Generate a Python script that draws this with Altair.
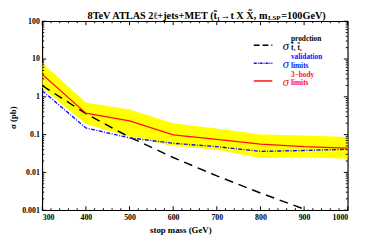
import altair as alt
import pandas as pd

# ---- data ----
mass = [300, 400, 500, 600, 700, 800, 900, 1000]
sigma_prod = [1.99, 0.357, 0.0855, 0.0248, 0.0081, 0.00285, 0.00107, 0.000437]
sigma_3body = [3.9, 0.37, 0.23, 0.098, 0.075, 0.056, 0.048, 0.044]
sigma_valid = [1.45, 0.15, 0.082, 0.059, 0.048, 0.036, 0.038, 0.041]
band_upper = [7.8, 0.71, 0.46, 0.20, 0.145, 0.10, 0.095, 0.087]
band_lower = [1.75, 0.19, 0.088, 0.05, 0.04, 0.024, 0.025, 0.023]

x_major = [300, 400, 500, 600, 700, 800, 900, 1000]
x_minor = [v for v in range(300, 1001, 20) if v % 100 != 0]
y_major = [0.001, 0.01, 0.1, 1, 10, 100]
y_minor = [m * d for d in [0.001, 0.01, 0.1, 1, 10] for m in range(2, 10)]

W, H = 312, 193
SERIF = "Liberation Serif"

df = pd.DataFrame({"mass": mass, "prod": sigma_prod, "b3": sigma_3body,
                   "val": sigma_valid, "up": band_upper, "lo": band_lower})

xs = alt.Scale(domain=[300, 1000], nice=False, zero=False)
ys = alt.Scale(type="log", domain=[0.001, 100], nice=False)

x_axis = alt.Axis(values=x_major, format="d", ticks=False, domain=False, grid=False,
                  labelFont=SERIF, labelFontWeight="bold", labelFontSize=8,
                  labelPadding=3, labelColor="black",
                  title="stop mass (GeV)", titleFont=SERIF, titleFontWeight="bold",
                  titleFontSize=9, titleX=141, titleY=20, titleBaseline="middle",
                  titleColor="black")
y_axis = alt.Axis(values=y_major, format="~g", ticks=False, domain=False, grid=False,
                  labelFont=SERIF, labelFontWeight="bold", labelFontSize=8,
                  labelPadding=3, labelColor="black",
                  title="σ (pb)", titleFont=SERIF, titleFontWeight="bold",
                  titleFontSize=9, titleX=-30, titleY=98, titleAngle=270,
                  titleAlign="center", titleBaseline="middle", titleColor="black")

base = alt.Chart(df)

band = base.mark_area(color="#FFFF00", opacity=1, clip=True).encode(
    x=alt.X("mass:Q", scale=xs, axis=x_axis),
    y=alt.Y("up:Q", scale=ys, axis=y_axis),
    y2="lo:Q",
)
prod = base.mark_line(color="black", strokeWidth=1.5, strokeDash=[9, 6], clip=True).encode(
    x=alt.X("mass:Q", scale=xs), y=alt.Y("prod:Q", scale=ys))
val = base.mark_line(color="#1010ff", strokeWidth=1.4, strokeDash=[4, 1.5, 1, 1.5], clip=True).encode(
    x=alt.X("mass:Q", scale=xs), y=alt.Y("val:Q", scale=ys))
b3 = base.mark_line(color="#ff1010", strokeWidth=1.3, clip=True).encode(
    x=alt.X("mass:Q", scale=xs), y=alt.Y("b3:Q", scale=ys))

# ---- frame ticks (inward) ----
tick_layers = []
for tv, ln in [(x_major, 4), (x_minor, 2)]:
    d = alt.Data(values=[{"v": v} for v in tv])
    tick_layers.append(alt.Chart(d).mark_rule(color="black", strokeWidth=1).encode(
        x=alt.X("v:Q", scale=xs), y=alt.value(H), y2=alt.value(H - ln)))
    tick_layers.append(alt.Chart(d).mark_rule(color="black", strokeWidth=1).encode(
        x=alt.X("v:Q", scale=xs), y=alt.value(0), y2=alt.value(ln)))
for tv, ln in [(y_major, 4), (y_minor, 2)]:
    d = alt.Data(values=[{"v": v} for v in tv])
    tick_layers.append(alt.Chart(d).mark_rule(color="black", strokeWidth=1).encode(
        y=alt.Y("v:Q", scale=ys), x=alt.value(0), x2=alt.value(ln)))
    tick_layers.append(alt.Chart(d).mark_rule(color="black", strokeWidth=1).encode(
        y=alt.Y("v:Q", scale=ys), x=alt.value(W), x2=alt.value(W - ln)))

# ---- title (with subscript) ----
one = alt.Data(values=[{"a": 1}])
def txt(s, x, y, size, align="left", color="black", style="normal", weight="bold"):
    return alt.Chart(one).mark_text(text=s, align=align, baseline="middle", font=SERIF,
                                    fontSize=size, fontWeight=weight, fontStyle=style,
                                    color=color).encode(x=alt.value(x), y=alt.value(y))

TY = -5.5
title = [
    txt("8TeV ATLAS 2ℓ+jets+MET (t̃₁→t X X̃, m", 230, TY, 10.5, align="right"),
    txt("LSP", 230.5, TY + 2, 7),
    txt("=100GeV)", 244, TY, 10.5),
]

# ---- legend ----
leg = []
entries = [
    ("black", [6, 3], 24.5, "prodction", "t̃₁ t̃₁"),
    ("#1010ff", [3, 1, 1, 1], 43, "validation", "limits"),
    ("#ff1010", None, 61, "3−body", "limits"),
]
for col, dash, yy, sup, sub in entries:
    kw = dict(color=col, strokeWidth=1.5)
    if dash:
        kw["strokeDash"] = dash
    leg.append(alt.Chart(one).mark_rule(**kw).encode(
        x=alt.value(216), x2=alt.value(235), y=alt.value(yy)))
    leg.append(txt("σ", 245.5, yy + 1, 13, color=col, style="italic", weight="normal"))
    leg.append(txt(sup, 254, yy - 6, 7.5, color=col))
    leg.append(txt(sub, 254, yy + 2.5, 7.5, color=col))

chart = alt.layer(band, prod, val, b3, *tick_layers, *title, *leg).properties(
    width=W, height=H,
    autosize=alt.AutoSizeParams(type="none"),
    padding={"left": 35, "top": 11, "right": 35, "bottom": 32},
    background="white",
).configure_view(stroke="black", strokeWidth=1.2)

chart.save("out.html", embed_options={"renderer": "svg", "actions": False})
